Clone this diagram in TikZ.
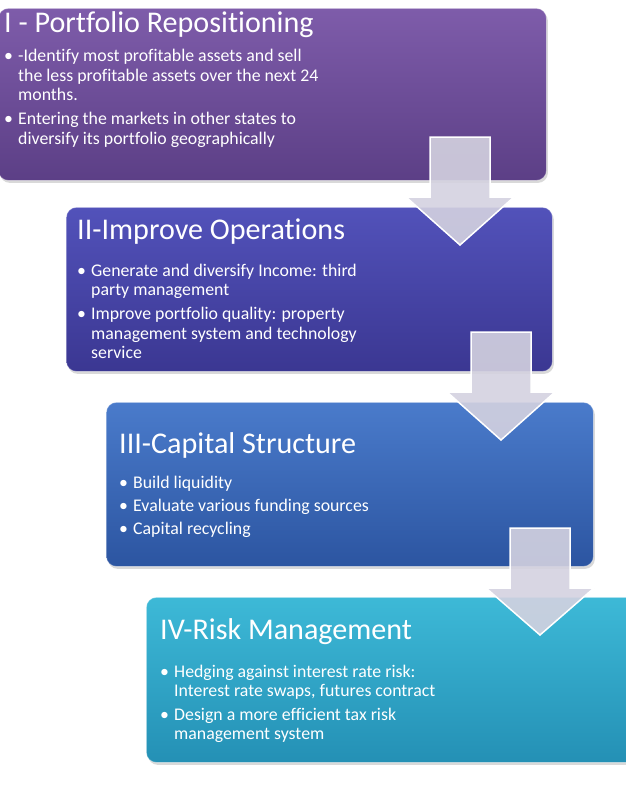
\documentclass[tikz,border=0pt]{standalone}
\usepackage{fontspec}
\setmainfont[RawFeature={-liga,-clig,-dlig}]{Carlito}
\usetikzlibrary{shadows}

\definecolor{moradoA}{HTML}{7E5CAA}
\definecolor{moradoB}{HTML}{5C3F86}
\definecolor{indigoA}{HTML}{5252BA}
\definecolor{indigoB}{HTML}{3B3792}
\definecolor{azulA}{HTML}{4A7BCB}
\definecolor{azulB}{HTML}{2C55A1}
\definecolor{cianA}{HTML}{3DB9D7}
\definecolor{cianB}{HTML}{2490B5}
\definecolor{flecha}{HTML}{D4D2E0}

\tikzset{
  stage/.style={rectangle, rounded corners=10pt, inner sep=0pt, anchor=north west,
    draw=white, draw opacity=0.35, line width=0.8pt,
    drop shadow={opacity=0.3, shadow xshift=1.5pt, shadow yshift=-2.5pt}},
  stagetitle/.style={anchor=base west, inner sep=0pt, text=white,
    font=\fontsize{30.1}{34}\selectfont},
  stagelist/.style={anchor=base west, inner sep=0pt, text=white,
    font=\fontsize{17.8}{19.5}\selectfont},
  bigarrow/.style={fill=flecha, fill opacity=0.9, draw=white, line width=1.5pt}
}

\begin{document}
\begin{tikzpicture}[x=1pt, y=-1pt]
    \useasboundingbox (0,0) rectangle (625,789);

    % Etapa I
    \node[stage, top color=moradoA, bottom color=moradoB, minimum width=548, minimum height=172] (stageI) at (-2,8) {};
    \node[stagetitle] (titleI) at (4,33) {I - Portfolio Repositioning};
    \node[stagelist] (listI) at (4,62) {\begin{tabular}[t]{@{}p{14pt}@{}l@{}}
      • & -Identify most profitable assets and sell \\
        & the less profitable assets over the next 24 \\
        & months. \\[4.5pt]
      • & Entering the markets in other states to \\
        & diversify its portfolio geographically
    \end{tabular}};

    % Etapa II
    \node[stage, top color=indigoA, bottom color=indigoB, minimum width=486, minimum height=164] (stageII) at (66,207) {};
    \node[stagetitle] (titleII) at (77,239) {II-Improve Operations};
    \node[stagelist] (listII) at (77,276) {\begin{tabular}[t]{@{}p{14pt}@{}l@{}}
      • & Generate and diversify Income: third \\
        & party management \\[4.5pt]
      • & Improve portfolio quality: property \\
        & management system and technology \\
        & service
    \end{tabular}};

    % Etapa III
    \node[stage, top color=azulA, bottom color=azulB, minimum width=487, minimum height=164] (stageIII) at (106,402) {};
    \node[stagetitle] (titleIII) at (119,453) {III-Capital Structure};
    \node[stagelist] (listIII) at (119,488) {\begin{tabular}[t]{@{}p{14pt}@{}l@{}}
      • & Build liquidity \\[3.5pt]
      • & Evaluate various funding sources \\[3.5pt]
      • & Capital recycling
    \end{tabular}};

    % Etapa IV
    \node[stage, top color=cianA, bottom color=cianB, minimum width=494, minimum height=165] (stageIV) at (146,597) {};
    \node[stagetitle] (titleIV) at (160,639) {IV-Risk Management};
    \node[stagelist] (listIV) at (160,677) {\begin{tabular}[t]{@{}p{14pt}@{}l@{}}
      • & Hedging against interest rate risk: \\
        & Interest rate swaps, futures contract \\[4pt]
      • & Design a more efficient tax risk \\
        & management system
    \end{tabular}};

    % Flechas entre etapas
    \foreach \cx/\ya/\yb/\yc in {460/137/197/245, 501/332/392/440, 540/528/588/635}
      \draw[bigarrow] (\cx-30,\ya) -- (\cx+30,\ya) -- (\cx+30,\yb) -- (\cx+54,\yb)
        -- (\cx,\yc) -- (\cx-54,\yb) -- (\cx-30,\yb) -- cycle;

\end{tikzpicture}
\end{document}
